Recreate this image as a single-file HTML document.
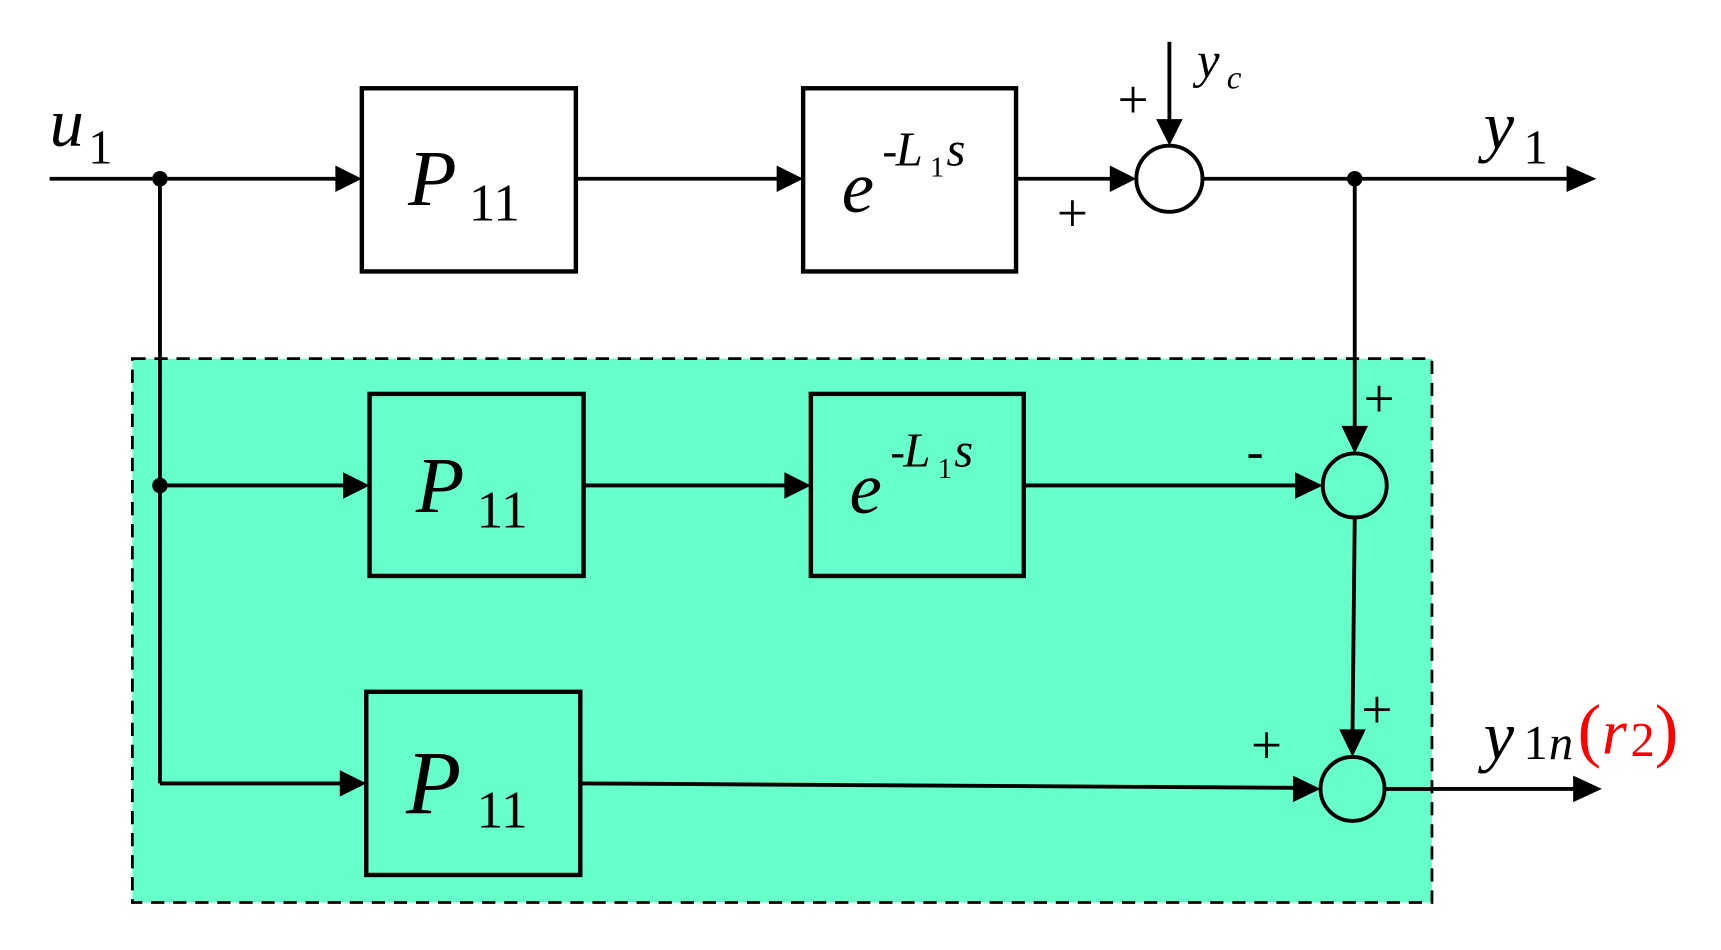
<!DOCTYPE html>
<html><head><meta charset="utf-8"><style>
html,body{margin:0;padding:0;background:#fff;}
svg{display:block;}
text{font-family:"Liberation Serif",serif;font-style:italic;fill:#000;}
.n{font-style:normal;}
</style></head><body>
<svg width="1721" height="950" viewBox="0 0 1560 861" preserveAspectRatio="none" xmlns="http://www.w3.org/2000/svg">
<defs>
<marker id="a" markerWidth="10" markerHeight="10" refX="9" refY="5" orient="auto" markerUnits="userSpaceOnUse">
<path d="M0,0 L0,0 L10,5 L0,10 Z" transform="scale(2.6) translate(-6.5,-3.1)"/>
</marker>
</defs>
<rect x="120" y="325" width="1178" height="493" fill="#66FFCC" stroke="#000" stroke-width="2.5" stroke-dasharray="12,8"/>
<g stroke="#000" stroke-width="4" fill="none">
<rect x="328" y="80" width="194" height="166"/>
<rect x="728" y="80" width="193" height="166"/>
<rect x="335" y="357" width="194" height="165"/>
<rect x="735" y="357" width="193" height="165"/>
<rect x="332" y="627" width="194" height="166"/>
</g>
<g stroke="#000" stroke-width="3.5" fill="#fff">
<circle cx="1060" cy="162" r="30"/>
</g>
<g stroke="#000" stroke-width="3.5" fill="none">
<circle cx="1228" cy="440" r="29"/>
<circle cx="1226" cy="715" r="29"/>
</g>
<g stroke="#000" stroke-width="3.5" fill="none">
<line x1="45" y1="162" x2="306" y2="162"/>
<line x1="522" y1="162" x2="706" y2="162"/>
<line x1="921" y1="162" x2="1008" y2="162"/>
<line x1="1060" y1="38" x2="1060" y2="110"/>
<line x1="1090" y1="162" x2="1422" y2="162"/>
<line x1="1228" y1="162" x2="1228" y2="388"/>
<line x1="145" y1="162" x2="145" y2="710"/>
<line x1="145" y1="440" x2="313" y2="440"/>
<line x1="529" y1="440" x2="713" y2="440"/>
<line x1="928" y1="440" x2="1176" y2="440"/>
<line x1="1228" y1="469" x2="1226" y2="663"/>
<line x1="145" y1="710" x2="310" y2="710"/>
<line x1="526" y1="710" x2="1174" y2="714"/>
<line x1="1255" y1="715" x2="1428" y2="715"/>
</g>
<g fill="#000">
<polygon points="328,162 304,150 304,174"/>
<polygon points="728,162 704,150 704,174"/>
<polygon points="1030,162 1006,150 1006,174"/>
<polygon points="1060,132 1048,108 1072,108"/>
<polygon points="1447,162 1420,150 1420,174"/>
<polygon points="1228,411 1216,386 1240,386"/>
<polygon points="335,440 311,428 311,452"/>
<polygon points="735,440 711,428 711,452"/>
<polygon points="1199,440 1174,428 1174,452"/>
<polygon points="1226,686 1214,661 1238,661"/>
<polygon points="332,710 308,698 308,722"/>
<polygon points="1197,715 1172,703 1172,727"/>
<polygon points="1452,715 1426,703 1426,727"/>
<circle cx="145" cy="162" r="7"/>
<circle cx="1228" cy="162" r="7"/>
<circle cx="145" cy="440" r="7"/>
</g>
<text x="45" y="132" font-size="62">u</text><text class="n" x="80" y="148" font-size="44">1</text>
<text x="1345" y="135" font-size="62">y</text><text class="n" x="1381" y="148" font-size="44">1</text>
<text x="1085" y="70" font-size="46">y</text><text x="1112" y="80" font-size="30">c</text>
<text class="n" x="1013" y="107" font-size="50">+</text>
<text class="n" x="958" y="210" font-size="50">+</text>
<text class="n" x="1236" y="378" font-size="50">+</text>
<text class="n" x="1130" y="424" font-size="46">-</text>
<text class="n" x="1234" y="660" font-size="50">+</text>
<text class="n" x="1134" y="692" font-size="50">+</text>
<text x="1345" y="688" font-size="62">y</text><text class="n" x="1381" y="688" font-size="44">1</text><text x="1404" y="688" font-size="44">n</text>
<text class="n" x="1430" y="683" font-size="64" fill="#ff0000" style="fill:#ff0000">(</text><text x="1452" y="683" font-size="58" style="fill:#ff0000">r</text><text class="n" x="1478" y="685" font-size="44" style="fill:#ff0000">2</text><text class="n" x="1500" y="683" font-size="64" style="fill:#ff0000">)</text>
<g>
<text x="370" y="186" font-size="72">P</text><text class="n" x="425" y="200" font-size="48">11</text>
<text x="377" y="464" font-size="72">P</text><text class="n" x="432" y="478" font-size="48">11</text>
<text x="368" y="737" font-size="82">P</text><text class="n" x="432" y="750" font-size="48">11</text>
</g>
<g>
<text x="763" y="192" font-size="66">e</text><text class="n" x="800" y="150" font-size="40">-</text><text x="812" y="150" font-size="44">L</text><text class="n" x="843" y="160" font-size="26">1</text><text x="858" y="150" font-size="44">s</text>
<text x="770" y="465" font-size="66">e</text><text class="n" x="807" y="423" font-size="40">-</text><text x="819" y="423" font-size="44">L</text><text class="n" x="850" y="433" font-size="26">1</text><text x="865" y="423" font-size="44">s</text>
</g>
</svg>
</body></html>
